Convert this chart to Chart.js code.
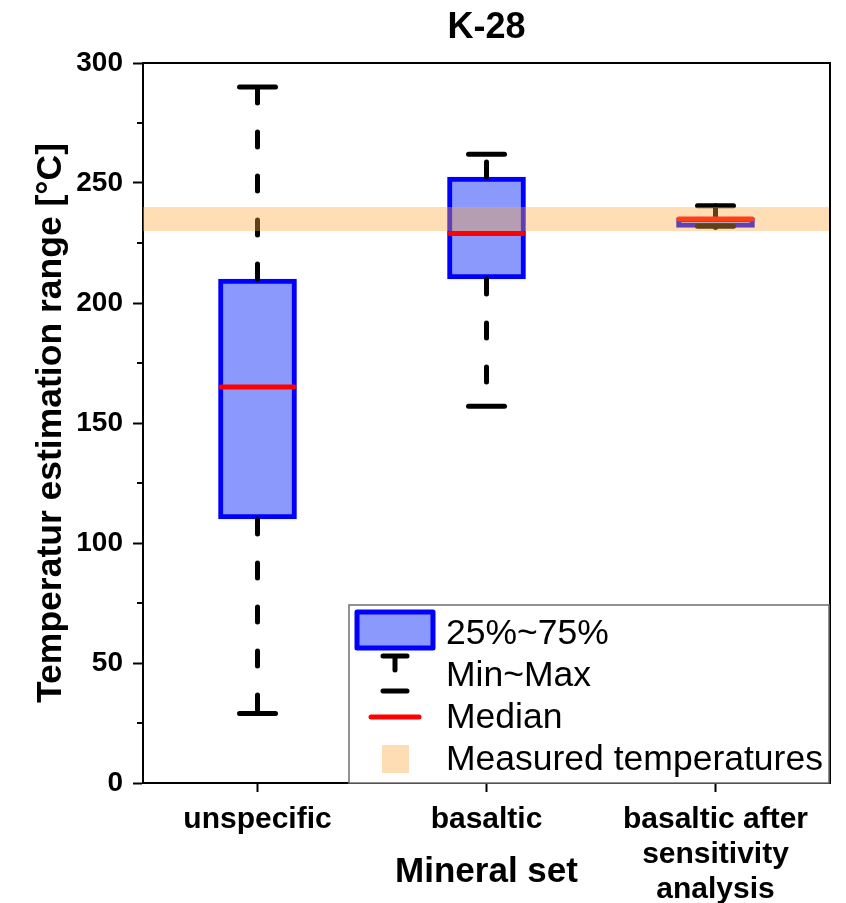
<!DOCTYPE html>
<html>
<head>
<meta charset="utf-8">
<script src="https://cdn.jsdelivr.net/npm/chart.js@4.4.0/dist/chart.umd.min.js"></script>
<style>
  body { margin: 0; background: #fff; }
  #wrap { width: 846px; height: 903px; }
</style>
</head>
<body>
<div id="wrap"><canvas id="boxChart"></canvas></div>
<script>
const categories = ["unspecific", "basaltic", ["basaltic after", "sensitivity", "analysis"]];
const q1 = [110, 210, 231.5];
const q3 = [210, 252.5, 235.5];
const medians = [165, 229, 235];
const mins = [29, 157, 232];
const maxs = [290, 262, 240.5];
const measured = [230, 240];
const legendLabels = ["25%~75%", "Min~Max", "Median", "Measured temperatures"];

const FONT = "'Liberation Sans', Arial, sans-serif";
const boxFill = "#8a99fb";
const boxLine = "#0000ff";
const bandColor = "rgba(255, 165, 60, 0.38)";
const bandSolid = "#ffddb4";

const ctx = document.getElementById("boxChart").getContext("2d");

// whiskers, caps, medians and the measured band
const boxExtras = {
  id: "boxExtras",
  afterDatasetsDraw(chart) {
    const { ctx, scales: { x, y }, chartArea } = chart;
    const meta = chart.getDatasetMeta(0);
    ctx.save();
    ctx.lineWidth = 5;
    ctx.lineCap = "round";
    categories.forEach((c, i) => {
      const cx = x.getPixelForValue(i);
      const half = meta.data[i].width / 2;
      ctx.strokeStyle = "#000";
      ctx.setLineDash([15, 29]);
      [[q3[i], maxs[i]], [q1[i], mins[i]]].forEach(([from, to]) => {
        ctx.beginPath();
        ctx.moveTo(cx, y.getPixelForValue(from));
        ctx.lineTo(cx, y.getPixelForValue(to));
        ctx.stroke();
      });
      ctx.setLineDash([]);
      [maxs[i], mins[i]].forEach(v => {
        const py = y.getPixelForValue(v);
        ctx.beginPath();
        ctx.moveTo(cx - 18, py);
        ctx.lineTo(cx + 18, py);
        ctx.stroke();
      });
      ctx.strokeStyle = "#ff0000";
      const my = y.getPixelForValue(medians[i]);
      ctx.beginPath();
      ctx.moveTo(cx - half + 2.5, my);
      ctx.lineTo(cx + half - 2.5, my);
      ctx.stroke();
    });
    const yTop = y.getPixelForValue(measured[1]);
    const yBot = y.getPixelForValue(measured[0]);
    ctx.fillStyle = bandColor;
    ctx.fillRect(chartArea.left, yTop, chartArea.right - chartArea.left, yBot - yTop);

    // minor y ticks
    ctx.strokeStyle = "#000";
    ctx.lineWidth = 2;
    ctx.lineCap = "butt";
    y.ticks.forEach(t => {
      if (t.value % 50 !== 0) {
        const py = y.getPixelForValue(t.value);
        ctx.beginPath();
        ctx.moveTo(chartArea.left - 6, py);
        ctx.lineTo(chartArea.left, py);
        ctx.stroke();
      }
    });
    ctx.restore();
  },
  afterDraw(chart) {
    const { ctx, chartArea } = chart;
    ctx.save();
    // frame
    ctx.strokeStyle = "#000";
    ctx.lineWidth = 2;
    ctx.beginPath();
    ctx.moveTo(chartArea.left, chartArea.top);
    ctx.lineTo(chartArea.right, chartArea.top);
    ctx.lineTo(chartArea.right, chartArea.bottom);
    ctx.stroke();

    // title
    ctx.fillStyle = "#000";
    ctx.font = "bold 36px " + FONT;
    ctx.textAlign = "center";
    ctx.textBaseline = "middle";
    ctx.fillText("K-28", (chartArea.left + chartArea.right) / 2, 28);

    // legend
    const lg = { left: 349, top: 605, right: 829, bottom: 783 };
    ctx.fillStyle = "#fff";
    ctx.fillRect(lg.left, lg.top, lg.right - lg.left, lg.bottom - lg.top);
    ctx.strokeStyle = "#6e6e6e";
    ctx.lineWidth = 1.5;
    ctx.strokeRect(lg.left, lg.top, lg.right - lg.left, lg.bottom - lg.top);

    const sx = 395;
    // box symbol
    ctx.fillStyle = boxFill;
    ctx.strokeStyle = boxLine;
    ctx.lineWidth = 5;
    ctx.lineJoin = "round";
    ctx.fillRect(357, 612, 76, 36);
    ctx.strokeRect(357, 612, 76, 36);
    // whisker symbol
    ctx.strokeStyle = "#000";
    ctx.lineCap = "round";
    ctx.beginPath();
    ctx.moveTo(sx - 12, 656); ctx.lineTo(sx + 12, 656);
    ctx.moveTo(sx, 656); ctx.lineTo(sx, 670);
    ctx.moveTo(sx - 12, 691); ctx.lineTo(sx + 12, 691);
    ctx.stroke();
    // median symbol
    ctx.strokeStyle = "#ff0000";
    ctx.beginPath();
    ctx.moveTo(371, 717); ctx.lineTo(419, 717);
    ctx.stroke();
    // band symbol
    ctx.fillStyle = bandSolid;
    ctx.fillRect(382, 745, 27, 28);

    ctx.fillStyle = "#000";
    ctx.font = "35.5px " + FONT;
    ctx.textAlign = "left";
    ctx.textBaseline = "middle";
    [634, 676, 718, 760].forEach((py, k) => ctx.fillText(legendLabels[k], 446, py));
    ctx.restore();
  }
};

const data = {
  labels: categories,
  datasets: [
    {
      data: q1.map((v, i) => [v, q3[i]]),
      backgroundColor: boxFill,
      borderColor: boxLine,
      borderWidth: 5,
      borderSkipped: false,
      barThickness: 78
    }
  ]
};

const options = {
  responsive: true,
  maintainAspectRatio: false,
  animation: false,
  layout: { padding: { top: 63, right: 16, left: 0, bottom: 0 } },
  plugins: { legend: { display: false }, tooltip: { enabled: false } },
  scales: {
    x: {
      afterFit(scale) { scale.height = 120; },
      grid: { drawOnChartArea: false, offset: false, tickLength: 9, tickWidth: 2, tickColor: "#000" },
      border: { color: "#000", width: 2 },
      ticks: {
        color: "#000",
        autoSkip: false,
        maxRotation: 0,
        padding: 10,
        font: { family: FONT, size: 30, weight: "bold", lineHeight: 1.17 }
      },
      title: {
        display: true,
        text: "Mineral set",
        color: "#000",
        font: { family: FONT, size: 35, weight: "bold" },
        padding: { top: 0, bottom: 10 }
      }
    },
    y: {
      min: 0,
      max: 300,
      afterFit(scale) { scale.width = 143; },
      grid: {
        drawOnChartArea: false,
        tickLength: 10,
        tickWidth: 2,
        tickColor: c => (c.tick && c.tick.value % 50 === 0 ? "#000" : "rgba(0,0,0,0)")
      },
      border: { color: "#000", width: 2 },
      ticks: {
        stepSize: 25,
        autoSkip: false,
        color: "#000",
        padding: 10,
        font: { family: FONT, size: 28, weight: "bold" },
        callback: v => (v % 50 === 0 ? v : "")
      },
      title: {
        display: true,
        text: "Temperatur estimation range [°C]",
        color: "#000",
        font: { family: FONT, size: 35.5, weight: "bold" },
        padding: { top: 30, bottom: 0 }
      }
    }
  }
};

const boxChart = new Chart(ctx, { type: "bar", data, options, plugins: [boxExtras] });
</script>
</body>
</html>
